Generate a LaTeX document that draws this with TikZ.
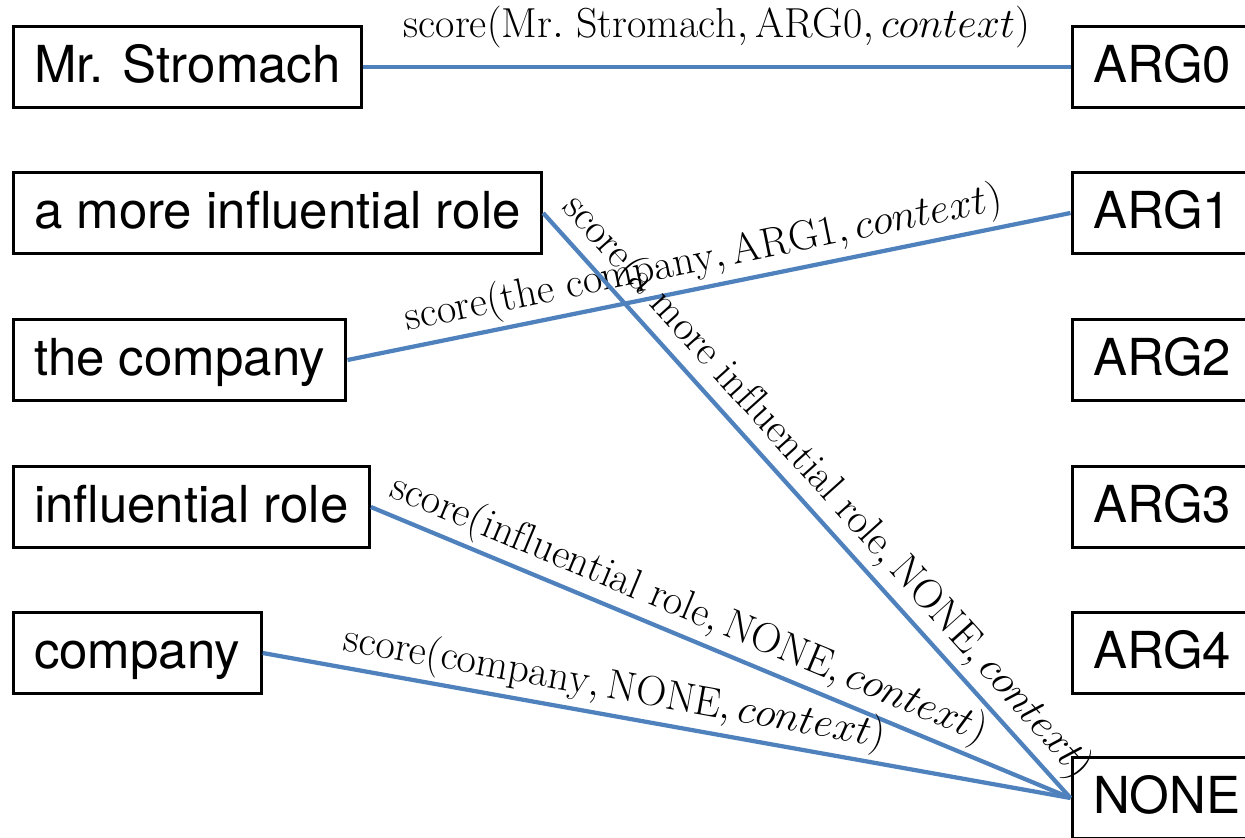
\documentclass[tikz,border=0pt]{standalone}
\usepackage{xcolor}
\usepackage{amsmath}
\usepackage{fontspec}
\usepackage{tikz}
\usetikzlibrary{calc}
\usetikzlibrary{positioning}
\newfontfamily\heros{TeX Gyre Heros}
\definecolor{linkblue}{RGB}{79,129,189}
\tikzset{>=latex}
\tikzstyle{word} = [rectangle, draw=black, line width=1.5pt, anchor=west,
  font=\heros\fontsize{25.2}{30}\selectfont, text height=19.8pt, text depth=4pt,
  minimum height=40.1pt, inner xsep=10.4pt]
\tikzstyle{link} = [-, draw=linkblue, line width=2.1pt]
\tikzstyle{score} = [sloped, above, font=\huge, inner sep=2pt]

\begin{document}
\begin{tikzpicture}[x=0.4943pt, y=-0.4943pt]
\clip (0,0) rectangle (1245,838);
% candidate phrases
\node [word] (stromach) at (11.5, 67) {Mr. Stromach};
\node [word] (morerole) at (11.5, 213) {a more influential role};
\node [word] (thecomp) at (11.5, 360) {the company};
\node [word] (infrole) at (11.5, 507) {influential role};
\node [word] (comp) at (11.5, 653) {company};
% roles
\node [word] (arg0) at (1070.5, 67) {ARG0};
\node [word] (arg1) at (1070.5, 213) {ARG1};
\node [word] (arg2) at (1070.5, 360) {ARG2};
\node [word] (arg3) at (1070.5, 507) {ARG3};
\node [word] (arg4) at (1070.5, 653) {ARG4};
\node [word] (none) at (1070.5, 798) {NONE};
\draw [link] (stromach.east) to node [score, inner sep=8.5pt]
  {$\mathrm{score}(\mathrm{Mr.\ Stromach}, \mathrm{ARG0}, context)$} (arg0.west);
\draw [link] (thecomp.east) to node [score]
  {$\mathrm{score}(\mathrm{the\ company}, \mathrm{ARG1}, context)$} (arg1.west);
\draw [link] (morerole.east) to node [score]
  {$\mathrm{score}(\mathrm{a\ more\ influential\ role}, \mathrm{NONE}, context)$} (none.west);
\draw [link] (infrole.east) to node [score, pos=.44]
  {$\mathrm{score}(\mathrm{influential\ role}, \mathrm{NONE}, context)$} (none.west);
\draw [link] (comp.east) to node [score, pos=.43]
  {$\mathrm{score}(\mathrm{company}, \mathrm{NONE}, context)$} (none.west);
\end{tikzpicture}
\end{document}
